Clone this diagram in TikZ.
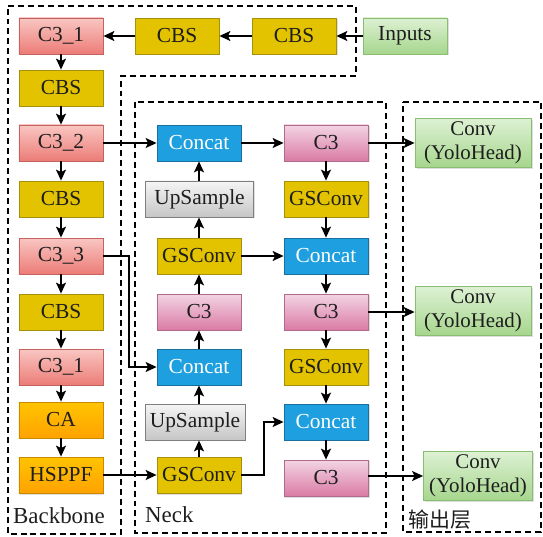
\documentclass[tikz,border=0pt]{standalone}
\usepackage{fontspec}
\setmainfont{Liberation Serif}
\newfontfamily\cjk{Noto Sans CJK SC}
\usetikzlibrary{arrows.meta,shadows,calc}
\definecolor{redT}{HTML}{F9C6C2}
\definecolor{redB}{HTML}{EC7C77}
\definecolor{redD}{HTML}{C4625E}
\definecolor{yel}{HTML}{E3C300}
\definecolor{yelD}{HTML}{A8910A}
\definecolor{grnT}{HTML}{DDF1D3}
\definecolor{grnB}{HTML}{A6D68D}
\definecolor{grnD}{HTML}{88BD72}
\definecolor{blu}{HTML}{1E9FDF}
\definecolor{bluD}{HTML}{1A6F9F}
\definecolor{pnkT}{HTML}{F2D4E3}
\definecolor{pnkB}{HTML}{DB7BA5}
\definecolor{pnkD}{HTML}{B06A8A}
\definecolor{gryT}{HTML}{F5F5F5}
\definecolor{gryB}{HTML}{C6C6C6}
\definecolor{gryD}{HTML}{7F7F7F}
\definecolor{orgT}{HTML}{FFC400}
\definecolor{orgB}{HTML}{FFA200}
\definecolor{orgD}{HTML}{C98A00}
\definecolor{txt}{HTML}{1E1E1E}
\tikzset{
  box/.style={draw, line width=0.8pt, minimum width=84bp, minimum height=36bp,
    inner sep=0pt, text=txt, font=\fontsize{21.5}{24}\selectfont,
    drop shadow={shadow xshift=1.5pt, shadow yshift=-1.5pt, opacity=0.25}},
  redbox/.style={box, draw=redD, top color=redT, bottom color=redB},
  yelbox/.style={box, draw=yelD, fill=yel},
  grnbox/.style={box, draw=grnD, top color=grnT, bottom color=grnB},
  blubox/.style={box, draw=bluD, fill=blu, text=white},
  pnkbox/.style={box, draw=pnkD, top color=pnkT, bottom color=pnkB},
  grybox/.style={box, draw=gryD, top color=gryT, bottom color=gryB},
  orgbox/.style={box, draw=orgD, top color=orgT, bottom color=orgB},
  headbox/.style={grnbox, minimum width=116bp, minimum height=49bp, align=center,
    font=\fontsize{21}{24}\selectfont},
  arr/.style={-{Stealth[length=11pt,width=10pt,inset=2.5pt]}, line width=1.6pt, black},
  region/.style={line width=1.4pt, dash pattern=on 6pt off 4pt, black},
  lbl/.style={anchor=base west, inner sep=0pt, text=txt, font=\fontsize{23}{26}\selectfont}
}
\begin{document}
\begin{tikzpicture}[x=1bp,y=-1bp]
\useasboundingbox (0,0) rectangle (543,537);
% regions
\draw[region] (8,6) -- (356,6) -- (356,76) -- (121,76) -- (121,534) -- (8,534) -- cycle;
\draw[region] (135,102) rectangle (386,533);
\draw[region] (403,102) -- (541,102) -- (541,532) -- (403,532) -- cycle;
% backbone
\node[redbox] (b1) at (61,36) {C3\_1};
\node[yelbox] (b2) at (61,88) {CBS};
\node[redbox] (b3) at (61,143) {C3\_2};
\node[yelbox] (b4) at (61,199) {CBS};
\node[redbox] (b5) at (61,256) {C3\_3};
\node[yelbox] (b6) at (61,312) {CBS};
\node[redbox] (b7) at (61,367) {C3\_1};
\node[orgbox] (b8) at (61,420) {CA};
\node[orgbox] (b9) at (61,475) {HSPPF};
% top row
\node[yelbox] (t1) at (177,36) {CBS};
\node[yelbox] (t2) at (294,36) {CBS};
\node[grnbox] (inp) at (405,36) {Inputs};
% neck column 1
\node[blubox] (n1) at (199,143) {Concat};
\node[grybox, minimum width=108bp] (n2) at (199.5,199) {UpSample};
\node[yelbox] (n3) at (199,256) {GSConv};
\node[pnkbox] (n4) at (199,312) {C3};
\node[blubox] (n5) at (199,367) {Concat};
\node[grybox, minimum width=100bp] (n6) at (195,422) {UpSample};
\node[yelbox] (n7) at (199,475) {GSConv};
% neck column 2
\node[pnkbox] (m1) at (326,143) {C3};
\node[yelbox] (m2) at (326,199) {GSConv};
\node[blubox] (m3) at (326,256) {Concat};
\node[pnkbox] (m4) at (326,312) {C3};
\node[yelbox] (m5) at (326,367) {GSConv};
\node[blubox] (m6) at (326,422) {Concat};
\node[pnkbox] (m7) at (326,478) {C3};
% heads
\node[headbox] (o1) at (473,143) {Conv\\(YoloHead)};
\node[headbox] (o2) at (473,311) {Conv\\(YoloHead)};
\node[headbox, minimum width=109bp] (o3) at (478,476) {Conv\\(YoloHead)};
% labels
\node[lbl] (lb) at (13,523) {Backbone};
\node[lbl] (ln) at (145,522) {Neck};
\node[lbl, font=\cjk\fontsize{21}{24}\selectfont] (lo) at (408,527) {输出层};
% connectors: top row
\draw[arr] (inp) -- (t2);
\draw[arr] (t2) -- (t1);
\draw[arr] (t1) -- (b1);
% backbone chain
\foreach \a/\b in {b1/b2,b2/b3,b3/b4,b4/b5,b5/b6,b6/b7,b7/b8,b8/b9}
  \draw[arr] (\a) -- (\b);
% backbone to neck
\draw[arr] (b3) -- (n1);
\coordinate (k1) at (129,312);
\draw[arr, line width=1.3pt] (b5.east) -| (k1) |- (n5.west);
\draw[arr] (b9) -- (n7);
% neck column 1 upward (vertical at column centre)
\foreach \a/\b in {n7/n6,n6/n5,n5/n4,n4/n3,n3/n2,n2/n1}
  \draw[arr] (\a.north -| n1) -- (\b.south -| n1);
\draw[arr] (n1) -- (m1);
\draw[arr] (n3) -- (m3);
\coordinate (k2) at (264,450);
\draw[arr] (n7.east) -| (k2) |- (m6.west);
% neck column 2 downward
\foreach \a/\b in {m1/m2,m2/m3,m3/m4,m4/m5,m5/m6,m6/m7}
  \draw[arr] (\a) -- (\b);
% to heads
\draw[arr] (m1) -- (m1 -| o1.west);
\draw[arr] (m4) -- (m4 -| o2.west);
\draw[arr] (m7.east |- o3) -- (o3.west);
\end{tikzpicture}
\end{document}
